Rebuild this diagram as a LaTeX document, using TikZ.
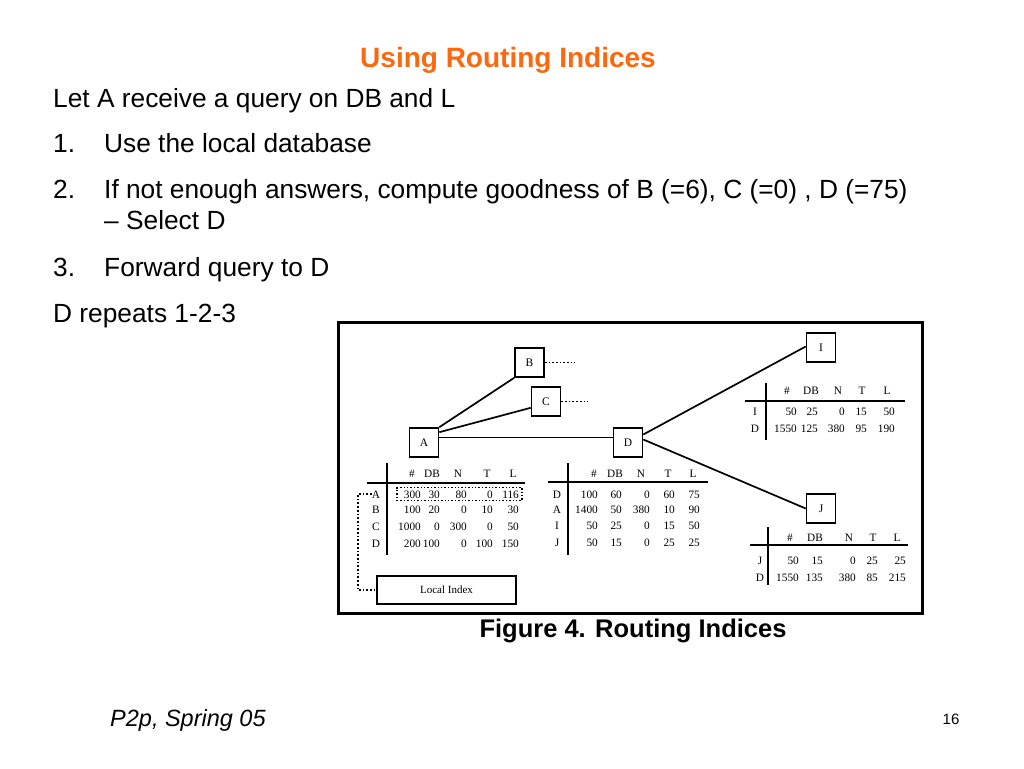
\documentclass[tikz,border=0pt]{standalone}
\usepackage{fontspec}
\setmainfont{Liberation Sans}
\newfontfamily\tabfont{Liberation Serif}
\definecolor{titleor}{RGB}{250,105,15}
\newcommand{\hdrrow}[3]{\foreach \cx/\v [count=\j] in {#3} \node[cell, anchor=base] (#1-h\j) at (\cx,#2) {\v};}
\newcommand{\valrow}[5]{\node[cell, anchor=base] (#1-lab) at (#3,#2) {#4};
  \foreach \cx/\v [count=\j] in {#5} \node[cell, anchor=base east] (#1-\j) at (\cx,#2) {\v};}
\begin{document}
\begin{tikzpicture}[x=1pt,y=-1pt,
  txt/.style={anchor=base west, inner sep=0, font=\fontsize{26.3}{28}\selectfont},
  cell/.style={inner sep=0, font=\tabfont\fontsize{11.3}{12}\selectfont},
  peer/.style={draw, line width=1.6, minimum width=29, minimum height=29, inner sep=0, font=\tabfont\fontsize{11.5}{12}\selectfont},
  link/.style={line width=1.7},
  rule/.style={line width=1.7},
  dots/.style={dotted, line width=1.7},
]
\useasboundingbox[fill=white] (0,0) rectangle (1024,768);
% title and text
\node[anchor=base, inner sep=0, font=\bfseries\fontsize{28}{30}\selectfont, text=titleor] (title) at (508,67) {Using Routing Indices};
\node[txt] (t0) at (53,107) {Let A receive a query on DB and L};
\node[txt] (n1) at (53,152) {1.};
\node[txt] (t1) at (104,152) {Use the local database};
\node[txt] (n2) at (53,198) {2.};
\node[txt] (t2) at (104,198) {If not enough answers, compute goodness of B (=6), C (=0) , D (=75)};
\node[txt] (t2b) at (104,229) {\textendash\ Select D};
\node[txt] (n3) at (53,276) {3.};
\node[txt] (t3) at (104,276) {Forward query to D};
\node[txt] (t4) at (53,322) {D repeats 1-2-3};
% figure frame
\node[draw, line width=3, minimum width=584, minimum height=291, inner sep=0] (frame) at (630,467.5) {};
\node[anchor=base, inner sep=0, font=\bfseries\fontsize{25.5}{28}\selectfont] (cap) at (633,637) {Figure 4. Routing Indices};
% peers
\node[peer] (B) at (529.5,362.5) {B};
\node[peer] (C) at (546,401.5) {C};
\node[peer] (A) at (424,442.5) {A};
\node[peer] (D) at (628,442.5) {D};
\node[peer] (I) at (821,347.5) {I};
\node[peer] (J) at (821,508.5) {J};
\draw[link] (A.north east) -- (B.south west);
\draw[link] ([yshift=-5pt]A.north east) -- ([yshift=9pt]C.south west);
\draw[line width=1] ([yshift=5.5pt]A.east) -- ([yshift=5.5pt]D.west);
\draw[link] ([yshift=8pt]D.east) -- ([yshift=1pt]I.west);
\draw[link] ([yshift=3pt]D.east) -- (J.west);
\coordinate (Bend) at (575,362.5);
\coordinate (Cend) at (588,401.5);
\draw[dots] (B.east) -- (Bend);
\draw[dots] (C.east) -- (Cend);
% table under A
\draw[rule] (367,483) -- (525,483);
\draw[rule] (387,463) -- (387,555);
\hdrrow{ta}{477}{412/\#,432/DB,458/N,487/T,513/L}
\valrow{taA}{498}{376}{A}{421/300,440/30,467/80,493/0,519/116}
\valrow{taB}{513}{376}{B}{421/100,440/20,467/0,493/10,519/30}
\valrow{taC}{530}{376}{C}{421/1000,440/0,467/300,493/0,519/50}
\valrow{taD}{547}{376}{D}{421/200,440/100,467/0,493/100,519/150}
\node[draw, dotted, line width=1.4, minimum width=125, minimum height=13, inner sep=0] (abox) at (459.5,494) {};
\node[draw, line width=1.6, minimum width=139, minimum height=28, inner sep=0, font=\tabfont\fontsize{11}{12}\selectfont] (LI) at (446.5,590) {Local Index};
\draw[dots] (taA-lab.west) -- ++(-14,0) |- (LI.west);
% table under D
\draw[rule] (548,482) -- (708,482);
\draw[rule] (568,463) -- (568,555);
\hdrrow{td}{477}{594/\#,615/DB,641/N,668/T,693/L}
\valrow{tdD}{498}{557}{D}{598/100,622/60,650/0,675/60,700/75}
\valrow{tdA}{513}{557}{A}{598/1400,622/50,650/380,675/10,700/90}
\valrow{tdI}{529}{557}{I}{598/50,622/25,650/0,675/15,700/50}
\valrow{tdJ}{546}{557}{J}{598/50,622/15,650/0,675/25,700/25}
% table near I
\draw[rule] (745,401) -- (905,401);
\draw[rule] (766,383) -- (766,440);
\hdrrow{ti}{394}{787/\#,811/DB,838/N,862/T,887/L}
\valrow{tiI}{415}{755}{I}{797/50,818/25,845/0,867/15,895/50}
\valrow{tiD}{432}{755}{D}{797/1550,818/125,845/380,867/95,895/190}
% table near J
\draw[rule] (750,545) -- (908,545);
\draw[rule] (768,527) -- (768,585);
\hdrrow{tj}{541}{790/\#,815/DB,849/N,873/T,897/L}
\valrow{tjJ}{564}{760}{J}{799/50,823/15,856/0,878/25,906/25}
\valrow{tjD}{581}{760}{D}{799/1550,823/135,856/380,878/85,906/215}
% footer
\node[anchor=base west, inner sep=0, font=\itshape\fontsize{23.5}{25}\selectfont] (foot) at (110,726) {P2p, Spring 05};
\node[anchor=base, inner sep=0, font=\fontsize{15}{17}\selectfont] (pg) at (951,724) {16};
\end{tikzpicture}
\end{document}
